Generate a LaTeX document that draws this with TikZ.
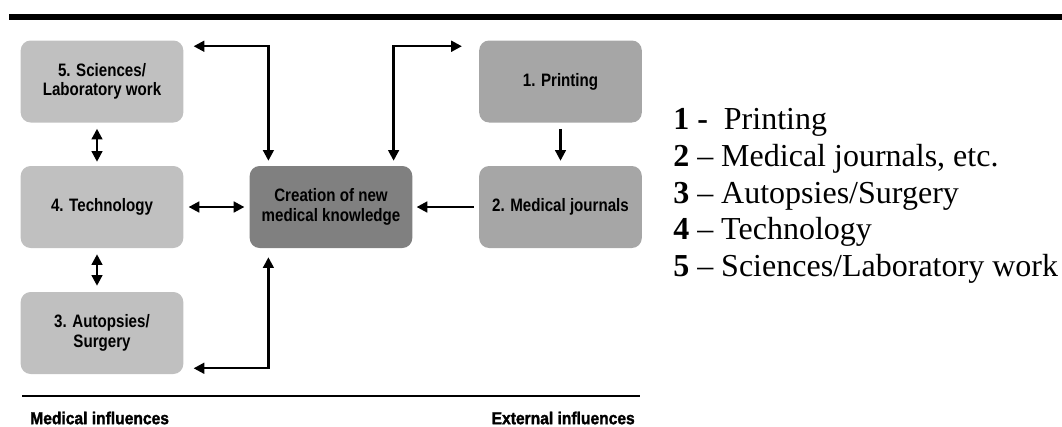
\documentclass[tikz,border=0pt]{standalone}
\usepackage{fontspec}
\setmainfont{Liberation Serif}
\newfontfamily\boxfont{Liberation Sans}[FakeStretch=0.84]
\newfontfamily\footfont{Liberation Sans}[FakeStretch=0.9,FakeBold=1.6]
\usetikzlibrary{arrows.meta,calc}
\definecolor{lightbox}{RGB}{192,192,192}
\definecolor{midbox}{RGB}{166,166,166}
\definecolor{darkbox}{RGB}{128,128,128}
\begin{document}
\begin{tikzpicture}[x=0.75pt,y=-0.75pt,
  card/.style={rounded corners=7.5pt, minimum width=122pt, minimum height=61.5pt,
    inner sep=0pt, align=center, text=black,
    font=\boxfont\bfseries\fontsize{13.5}{14.5}\selectfont},
  tip/.tip={Triangle[length=8pt,width=8pt]},
  link/.style={line width=1.8pt, -tip},
  twoway/.style={line width=1.8pt, tip-tip},
  legend/.style={anchor=base west, inner sep=0pt, font=\fontsize{24}{27.75}\selectfont},
  foot/.style={inner sep=0pt, font=\footfont\bfseries\fontsize{13}{14}\selectfont}]

\useasboundingbox (0,0) rectangle (1062,426);

% heavy rule across the top
\draw[line width=4.5pt] (9,17) -- (1062,17);

% medical influences (left column)
\node[card, fill=lightbox] (b5) at (102,81.5) {5. Sciences/\\Laboratory work};
\node[card, fill=lightbox] (b4) at (102,207) {4. Technology};
\node[card, fill=lightbox] (b3) at (102,333) {3. Autopsies/\\Surgery};

% central node
\node[card, fill=darkbox] (cen) at (331,207) {Creation of new\\medical knowledge};

% external influences (right column)
\node[card, fill=midbox] (b1) at (560.5,81.5) {1. Printing};
\node[card, fill=midbox] (b2) at (560.5,207) {2. Medical journals};

% connectors
\draw[twoway] ($(cen.north west)+(19,-5)$) |- ($(b5.north east)+(10,6)$);
\draw[twoway] ($(cen.north east)+(-19,-5)$) |- ($(b1.north west)+(-17,6)$);
\draw[twoway] ($(cen.south west)+(19,9)$) |- ($(b3.south east)+(10,-6)$);
\draw[link] ($(b1.south)+(0,6)$) -- ($(b2.north)+(0,-5)$);
\draw[link] ($(b2.west)+(-5,0)$) -- ($(cen.east)+(4,0)$);
\draw[twoway] ($(b4.east)+(5,0)$) -- ($(cen.west)+(-5,0)$);
\draw[twoway] ($(b5.south)+(-5,6)$) -- ($(b4.north)+(-5,-4)$);
\draw[twoway] ($(b4.south)+(-5,6)$) -- ($(b3.north)+(-5,-6)$);

% baseline rule and captions
\draw[line width=1.6pt] (22,396) -- (640,396);
\node[foot, anchor=west] (mi) at (30,418) {Medical influences};
\node[foot, anchor=east] (ei) at (635,418) {External influences};

% key
\node[legend] (k1) at (673,129) {\textbf{1 -}\ \ Printing};
\node[legend] (k2) at (673,166) {\textbf{2} -- Medical journals, etc.};
\node[legend] (k3) at (673,203) {\textbf{3} -- Autopsies/Surgery};
\node[legend] (k4) at (673,239) {\textbf{4} -- Technology};
\node[legend] (k5) at (673,276) {\textbf{5} -- Sciences/Laboratory work};
\end{tikzpicture}
\end{document}
